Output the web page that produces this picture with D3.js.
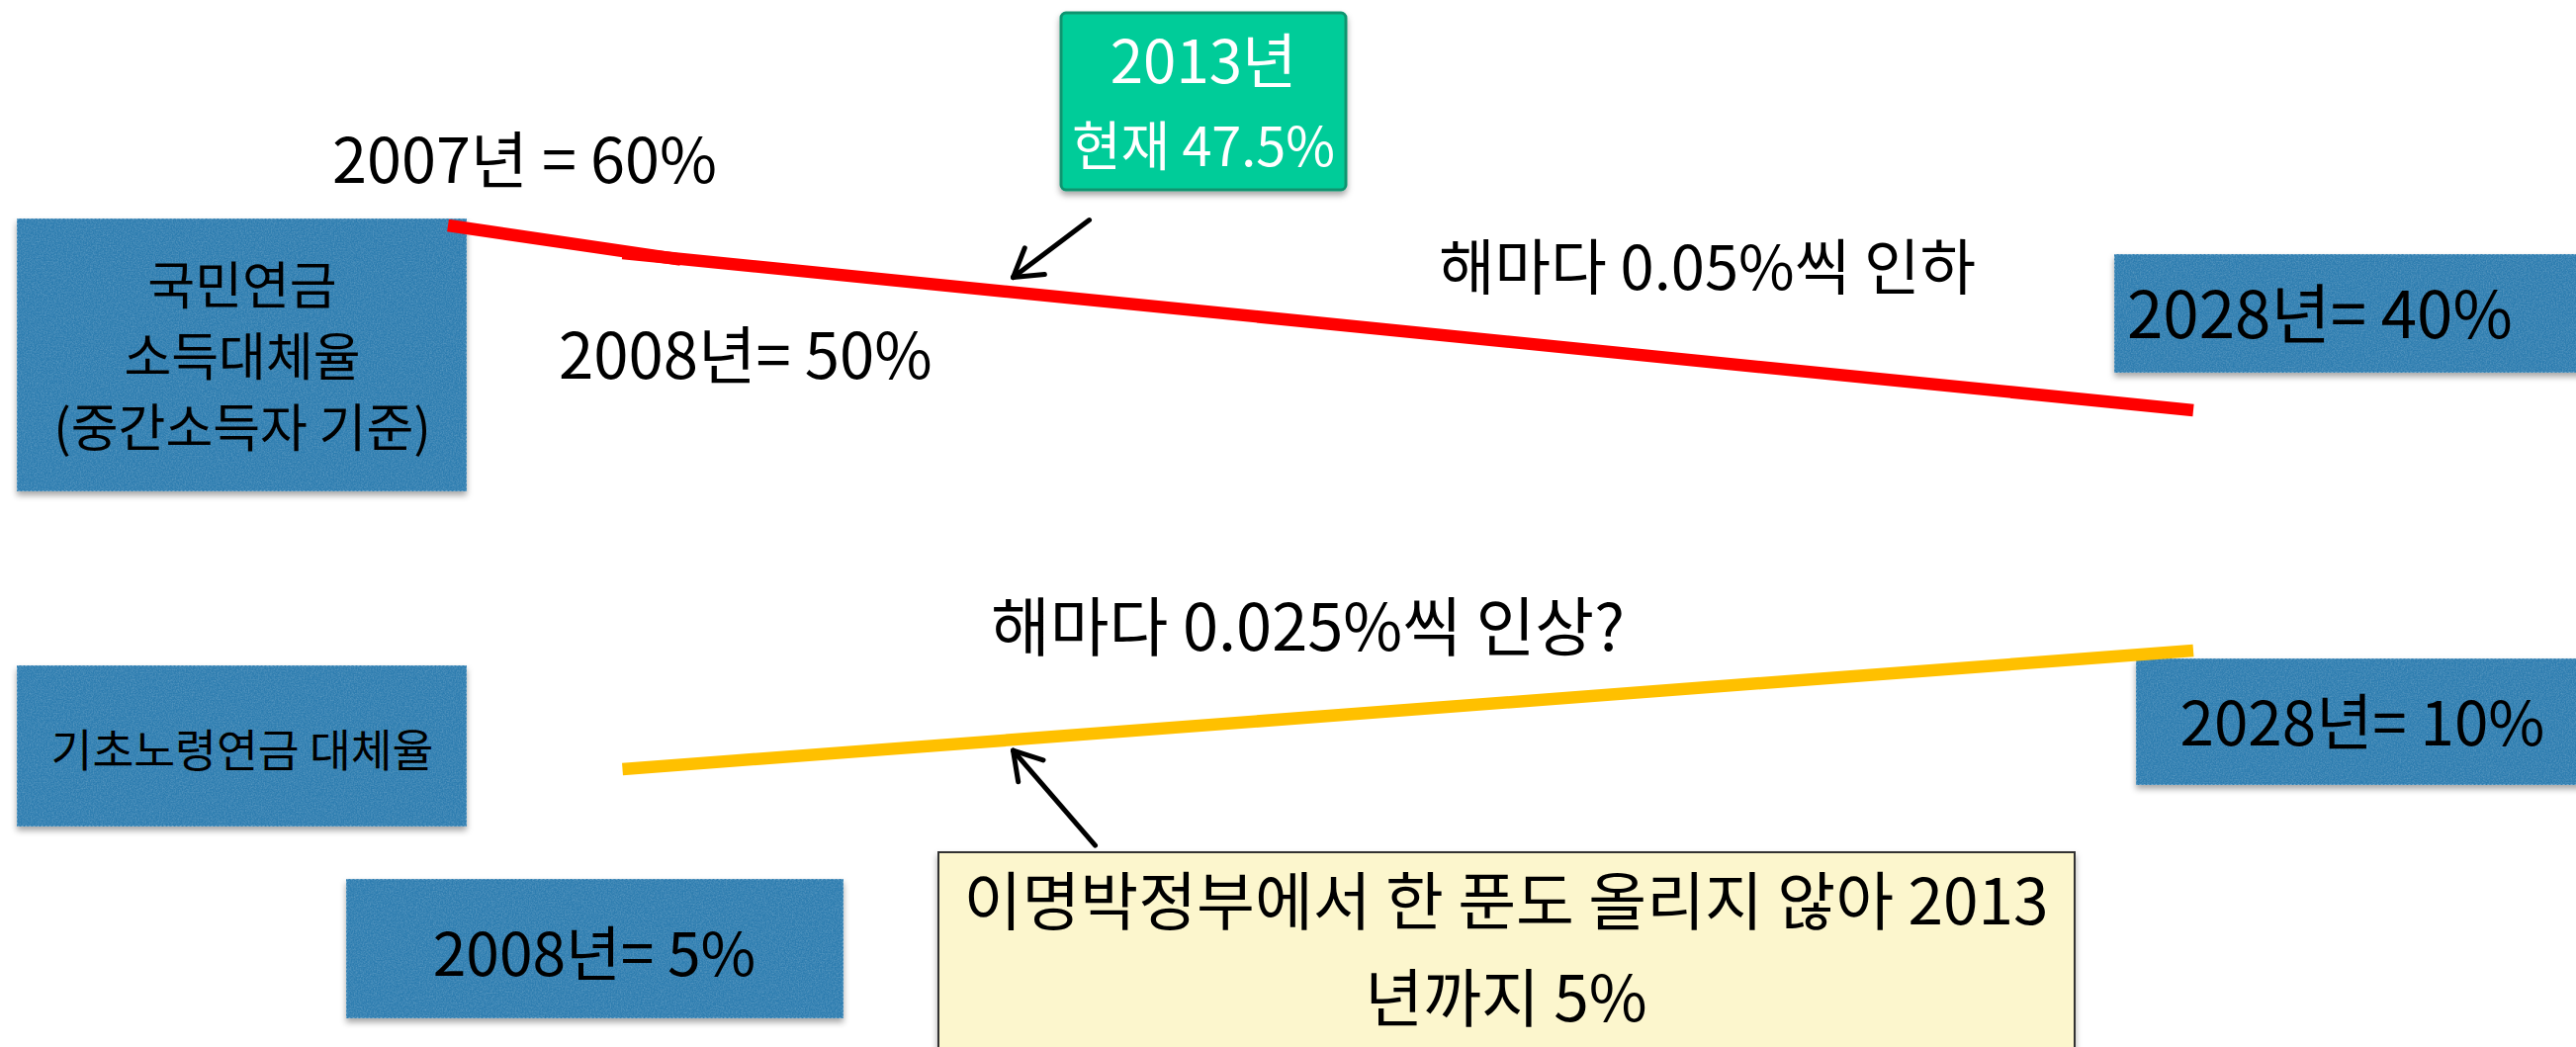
<!DOCTYPE html>
<meta charset="utf-8">
<title>국민연금 소득대체율 / 기초노령연금 대체율</title>
<style>
    body { margin: 0; background: #fff; }
    svg { display: block; }
    text { font-family: "Noto Sans CJK KR", "Noto Sans", sans-serif; fill: #000; }
</style>
<body>
<script src="https://d3js.org/d3.v7.min.js"></script>
<script>

// 국민연금 소득대체율 (red) - drawn as two overlapping strokes in the picture
var redYearsA = [2007, 2009.8];
var redRatesA = [60, 56.3];
var redYearsB = [2009.1, 2028];
var redRatesB = [57, 40];

// 기초노령연금 대체율 (yellow)
var yellowYears = [2009.1, 2028];
var yellowRates = [5, 10];

// the year both arrows point at
var markYear = 2013.8;

// texts
var boxPensionLines = ["국민연금", "소득대체율", "(중간소득자 기준)"];
var boxBasicLabel = "기초노령연금 대체율";
var label2007 = "2007년 = 60%";
var label2008 = "2008년= 50%";
var labelRedTrend = "해마다 0.05%씩 인하";
var labelRed2028 = "2028년= 40%";
var labelNowLines = ["2013년", "현재 47.5%"];
var labelYellowTrend = "해마다 0.025%씩 인상?";
var labelYellow2008 = "2008년= 5%";
var labelYellow2028 = "2028년= 10%";
var noteLines = ["이명박정부에서 한 푼도 올리지 않아 2013", "년까지 5%"];

var W = 2605, H = 1059;

var svg = d3.select("body").append("svg")
    .attr("width", W)
    .attr("height", H);

// scales
var x = d3.scaleLinear().domain([2007, 2028]).range([453, 2218]);
var yTop = d3.scaleLinear().domain([40, 60]).range([415, 228]);
var yLow = d3.scaleLinear().domain([5, 10]).range([778, 658]);

// filters: soft shadow + paper grain
var defs = svg.append("defs");
var sh = defs.append("filter").attr("id", "shadow")
    .attr("x", "-5%").attr("y", "-10%").attr("width", "115%").attr("height", "130%");
sh.append("feDropShadow").attr("dx", 0).attr("dy", 4).attr("stdDeviation", 3)
    .attr("flood-color", "#000").attr("flood-opacity", 0.35);

var gr = defs.append("filter").attr("id", "grain")
    .attr("x", 0).attr("y", 0).attr("width", "100%").attr("height", "100%");
gr.append("feTurbulence").attr("type", "fractalNoise").attr("baseFrequency", 0.7)
    .attr("numOctaves", 2).attr("seed", 4).attr("result", "noise");
gr.append("feColorMatrix").attr("in", "noise").attr("type", "matrix")
    .attr("values", "0 0 0 0 1  0 0 0 0 1  0 0 0 0 1  0 0 0 0.35 -0.12").attr("result", "spots");
gr.append("feComposite").attr("in", "spots").attr("in2", "SourceGraphic").attr("operator", "in");

function blueBox(x0, y0, w, h) {
    var g = svg.append("g");
    g.append("rect").attr("x", x0).attr("y", y0).attr("width", w).attr("height", h)
        .attr("fill", "#2f7db0").attr("filter", "url(#shadow)");
    g.append("rect").attr("x", x0).attr("y", y0).attr("width", w).attr("height", h)
        .attr("fill", "#fff").attr("filter", "url(#grain)");
    g.append("rect").attr("x", x0 + 0.5).attr("y", y0 + 0.5).attr("width", w - 1).attr("height", h - 1)
        .attr("fill", "none").attr("stroke", "#9fc3dc").attr("stroke-width", 1)
        .attr("stroke-dasharray", "2,2").attr("opacity", 0.6);
    return g;
}

function label(txt, x0, y0, size, anchor, color) {
    return svg.append("text")
        .attr("x", x0).attr("y", y0)
        .attr("font-size", size + "px")
        .attr("dominant-baseline", "central")
        .attr("text-anchor", anchor || "start")
        .style("fill", color || "#000")
        .text(txt);
}

// boxes
blueBox(17, 221, 455, 276);
blueBox(17, 673, 455, 163);
blueBox(350, 889, 503, 141);
blueBox(2138, 257, 500, 120);
blueBox(2160, 666, 480, 128);

// green "2013" box
svg.append("rect")
    .attr("x", 1073).attr("y", 13).attr("width", 288).attr("height", 179)
    .attr("rx", 5)
    .attr("fill", "#00cc99")
    .attr("stroke", "#11946f").attr("stroke-width", 3)
    .attr("filter", "url(#shadow)");

// yellow note box
svg.append("rect")
    .attr("x", 949).attr("y", 862).attr("width", 1149).attr("height", 240)
    .attr("fill", "#fcf6cd")
    .attr("stroke", "#333").attr("stroke-width", 2)
    .attr("filter", "url(#shadow)");

// lines
var line = d3.line();
function drawSeries(years, rates, yScale, color) {
    var pts = years.map(function (yr, i) { return [x(yr), yScale(rates[i])]; });
    svg.append("path")
        .attr("d", line(pts))
        .attr("fill", "none")
        .attr("stroke", color)
        .attr("stroke-width", 12.5)
        .attr("stroke-linecap", "butt");
}
drawSeries(redYearsA, redRatesA, yTop, "#ff0000");
drawSeries(redYearsB, redRatesB, yTop, "#ff0000");
drawSeries(yellowYears, yellowRates, yLow, "#ffc000");

// arrows pointing at the 2013 positions
function valueAt(years, rates, yr) {
    return d3.scaleLinear().domain(years).range(rates)(yr);
}
function arrow(tipX, tipY, tailX, tailY) {
    var g = svg.append("g")
        .attr("stroke", "#000").attr("stroke-width", 5)
        .attr("stroke-linecap", "round").attr("fill", "none");
    g.append("line").attr("x1", tailX).attr("y1", tailY).attr("x2", tipX).attr("y2", tipY);
    var a = Math.atan2(tailY - tipY, tailX - tipX);
    [-0.55, 0.55].forEach(function (d) {
        g.append("line")
            .attr("x1", tipX).attr("y1", tipY)
            .attr("x2", tipX + 32 * Math.cos(a + d))
            .attr("y2", tipY + 32 * Math.sin(a + d));
    });
}
var redAt = yTop(valueAt(redYearsB, redRatesB, markYear));
arrow(x(markYear), redAt - 15, x(markYear) + 77, redAt - 73);
var yelAt = yLow(valueAt(yellowYears, yellowRates, markYear));
arrow(x(markYear), yelAt + 11, x(markYear) + 83, yelAt + 107);

// texts
boxPensionLines.forEach(function (t, i) {
    label(t, 245, 285 + i * 72, 52, "middle");
});
label(boxBasicLabel, 245, 756, 45.5, "middle");
label(label2007, 336, 157, 63);
label(label2008, 565, 355, 63.5);
label(labelRedTrend, 1455, 266, 61.5);
label(labelRed2028, 2151, 313, 65.5);
label(labelNowLines[0], 1217, 57, 60, "middle", "#fff");
label(labelNowLines[1], 1217, 144, 54, "middle", "#fff");
label(labelYellowTrend, 1002, 630, 65);
label(labelYellow2008, 601, 960, 60.5, "middle");
label(labelYellow2028, 2389, 727, 62, "middle");
noteLines.forEach(function (t, i) {
    label(t, 1523, 907 + i * 98, 64, "middle");
});

</script>
</body>
